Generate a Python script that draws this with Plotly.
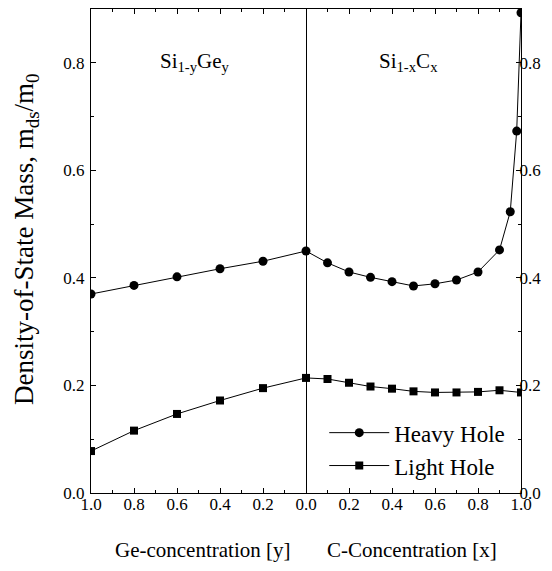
import plotly.graph_objects as go

# Left panel: Si(1-y)Ge(y)
ge_conc = [1.0, 0.8, 0.6, 0.4, 0.2, 0.0]
ge_heavy = [0.370, 0.386, 0.402, 0.417, 0.431, 0.450]
ge_light = [0.078, 0.116, 0.147, 0.172, 0.195, 0.214]

# Right panel: Si(1-x)C(x)
c_conc_heavy = [0.0, 0.1, 0.2, 0.3, 0.4, 0.5, 0.6, 0.7, 0.8, 0.9, 0.95, 0.98, 1.0]
c_heavy = [0.450, 0.428, 0.411, 0.401, 0.393, 0.385, 0.389, 0.396, 0.411, 0.452, 0.523, 0.673, 0.893]
c_conc_light = [0.0, 0.1, 0.2, 0.3, 0.4, 0.5, 0.6, 0.7, 0.8, 0.9, 1.0]
c_light = [0.214, 0.212, 0.205, 0.198, 0.194, 0.189, 0.187, 0.187, 0.188, 0.191, 0.187]

left_ticks = [1.0, 0.8, 0.6, 0.4, 0.2]
right_ticks = [0.0, 0.2, 0.4, 0.6, 0.8, 1.0]
y_ticks = [0.0, 0.2, 0.4, 0.6, 0.8]

FONT = "Liberation Serif"

fig = go.Figure()

line = dict(color="black", width=1)
fig.add_trace(go.Scatter(x=ge_conc, y=ge_heavy, mode="lines+markers", line=line,
                         marker=dict(symbol="circle", size=9, color="black"),
                         name="Heavy Hole", showlegend=True, xaxis="x", yaxis="y"))
fig.add_trace(go.Scatter(x=ge_conc, y=ge_light, mode="lines+markers", line=line,
                         marker=dict(symbol="square", size=8, color="black"),
                         name="Light Hole", showlegend=True, xaxis="x", yaxis="y"))
fig.add_trace(go.Scatter(x=c_conc_heavy, y=c_heavy, mode="lines+markers", line=line,
                         marker=dict(symbol="circle", size=9, color="black"),
                         name="Heavy Hole", showlegend=False, xaxis="x2", yaxis="y2"))
fig.add_trace(go.Scatter(x=c_conc_light, y=c_light, mode="lines+markers", line=line,
                         marker=dict(symbol="square", size=8, color="black"),
                         name="Light Hole", showlegend=False, xaxis="x2", yaxis="y2"))


def tf():
    return dict(family=FONT, size=17, color="black")


def minor():
    return dict(ticks="inside", ticklen=3, dtick=0.1, tickcolor="black", showgrid=False)


def xax(domain, rng, vals, anchor):
    return dict(domain=domain, range=rng, tickvals=vals, anchor=anchor,
                showline=True, linecolor="black", linewidth=1, mirror="ticks",
                ticks="inside", ticklen=5, tickcolor="black", showgrid=False,
                zeroline=False, tickfont=tf(), tickformat=".1f", minor=minor(),
                automargin=False, ticklabelstandoff=-4)


def yax(side, anchor, mirror, standoff):
    return dict(domain=[0, 1], range=[0, 0.9], tickvals=y_ticks, anchor=anchor, side=side,
                showline=True, linecolor="black", linewidth=1, mirror=mirror,
                ticks="inside", ticklen=5, tickcolor="black", showgrid=False,
                zeroline=False, tickfont=tf(), tickformat=".1f", minor=minor(),
                automargin=False, ticklabelstandoff=standoff)


W, H = 552, 571
L, R, T, B = 91, 31, 9, 78
pw, ph = W - L - R, H - T - B

annotations = [
    dict(text="Si<sub>1-y</sub>Ge<sub>y</sub>", x=195, y=62),
    dict(text="Si<sub>1-x</sub>C<sub>x</sub>", x=408, y=62),
    dict(text="Ge-concentration [y]", x=203, y=550),
    dict(text="C-Concentration [x]", x=412, y=550),
]
ann = []
for a in annotations:
    ann.append(dict(text=a["text"], xref="paper", yref="paper",
                    x=(a["x"] - L) / pw, y=1 - (a["y"] - T) / ph,
                    showarrow=False, xanchor="center", yanchor="middle",
                    font=dict(family=FONT, size=21, color="black")))
ann.append(dict(text="Density-of-State Mass, m<sub>ds</sub>/m<sub>0</sub>",
                xref="paper", yref="paper", x=(26 - L) / pw, y=1 - (240 - T) / ph,
                textangle=-90, showarrow=False, xanchor="center", yanchor="middle",
                font=dict(family=FONT, size=27, color="black")))

fig.update_layout(
    template="none",
    width=W, height=H,
    margin=dict(l=L, r=R, t=T, b=B, autoexpand=False),
    paper_bgcolor="white", plot_bgcolor="white",
    font=dict(family=FONT, size=17, color="black"),
    xaxis=xax([0, 0.5], [1.0, 0.0], left_ticks, "y"),
    xaxis2=xax([0.5, 1.0], [0.0, 1.0], right_ticks, "y2"),
    yaxis=yax("left", "x", True, 2),
    yaxis2=yax("right", "x2", False, -6),
    annotations=ann,
    showlegend=True,
    legend=dict(x=0.975, y=0.012, xanchor="right", yanchor="bottom",
                bgcolor="rgba(0,0,0,0)", borderwidth=0,
                font=dict(family=FONT, size=23, color="black"),
                itemwidth=60, tracegroupgap=0),
)

fig.write_html("out.html",
               config={"displayModeBar": False},
               post_script="document.body.style.margin='0px';"
                           "document.body.style.overflow='hidden';")
